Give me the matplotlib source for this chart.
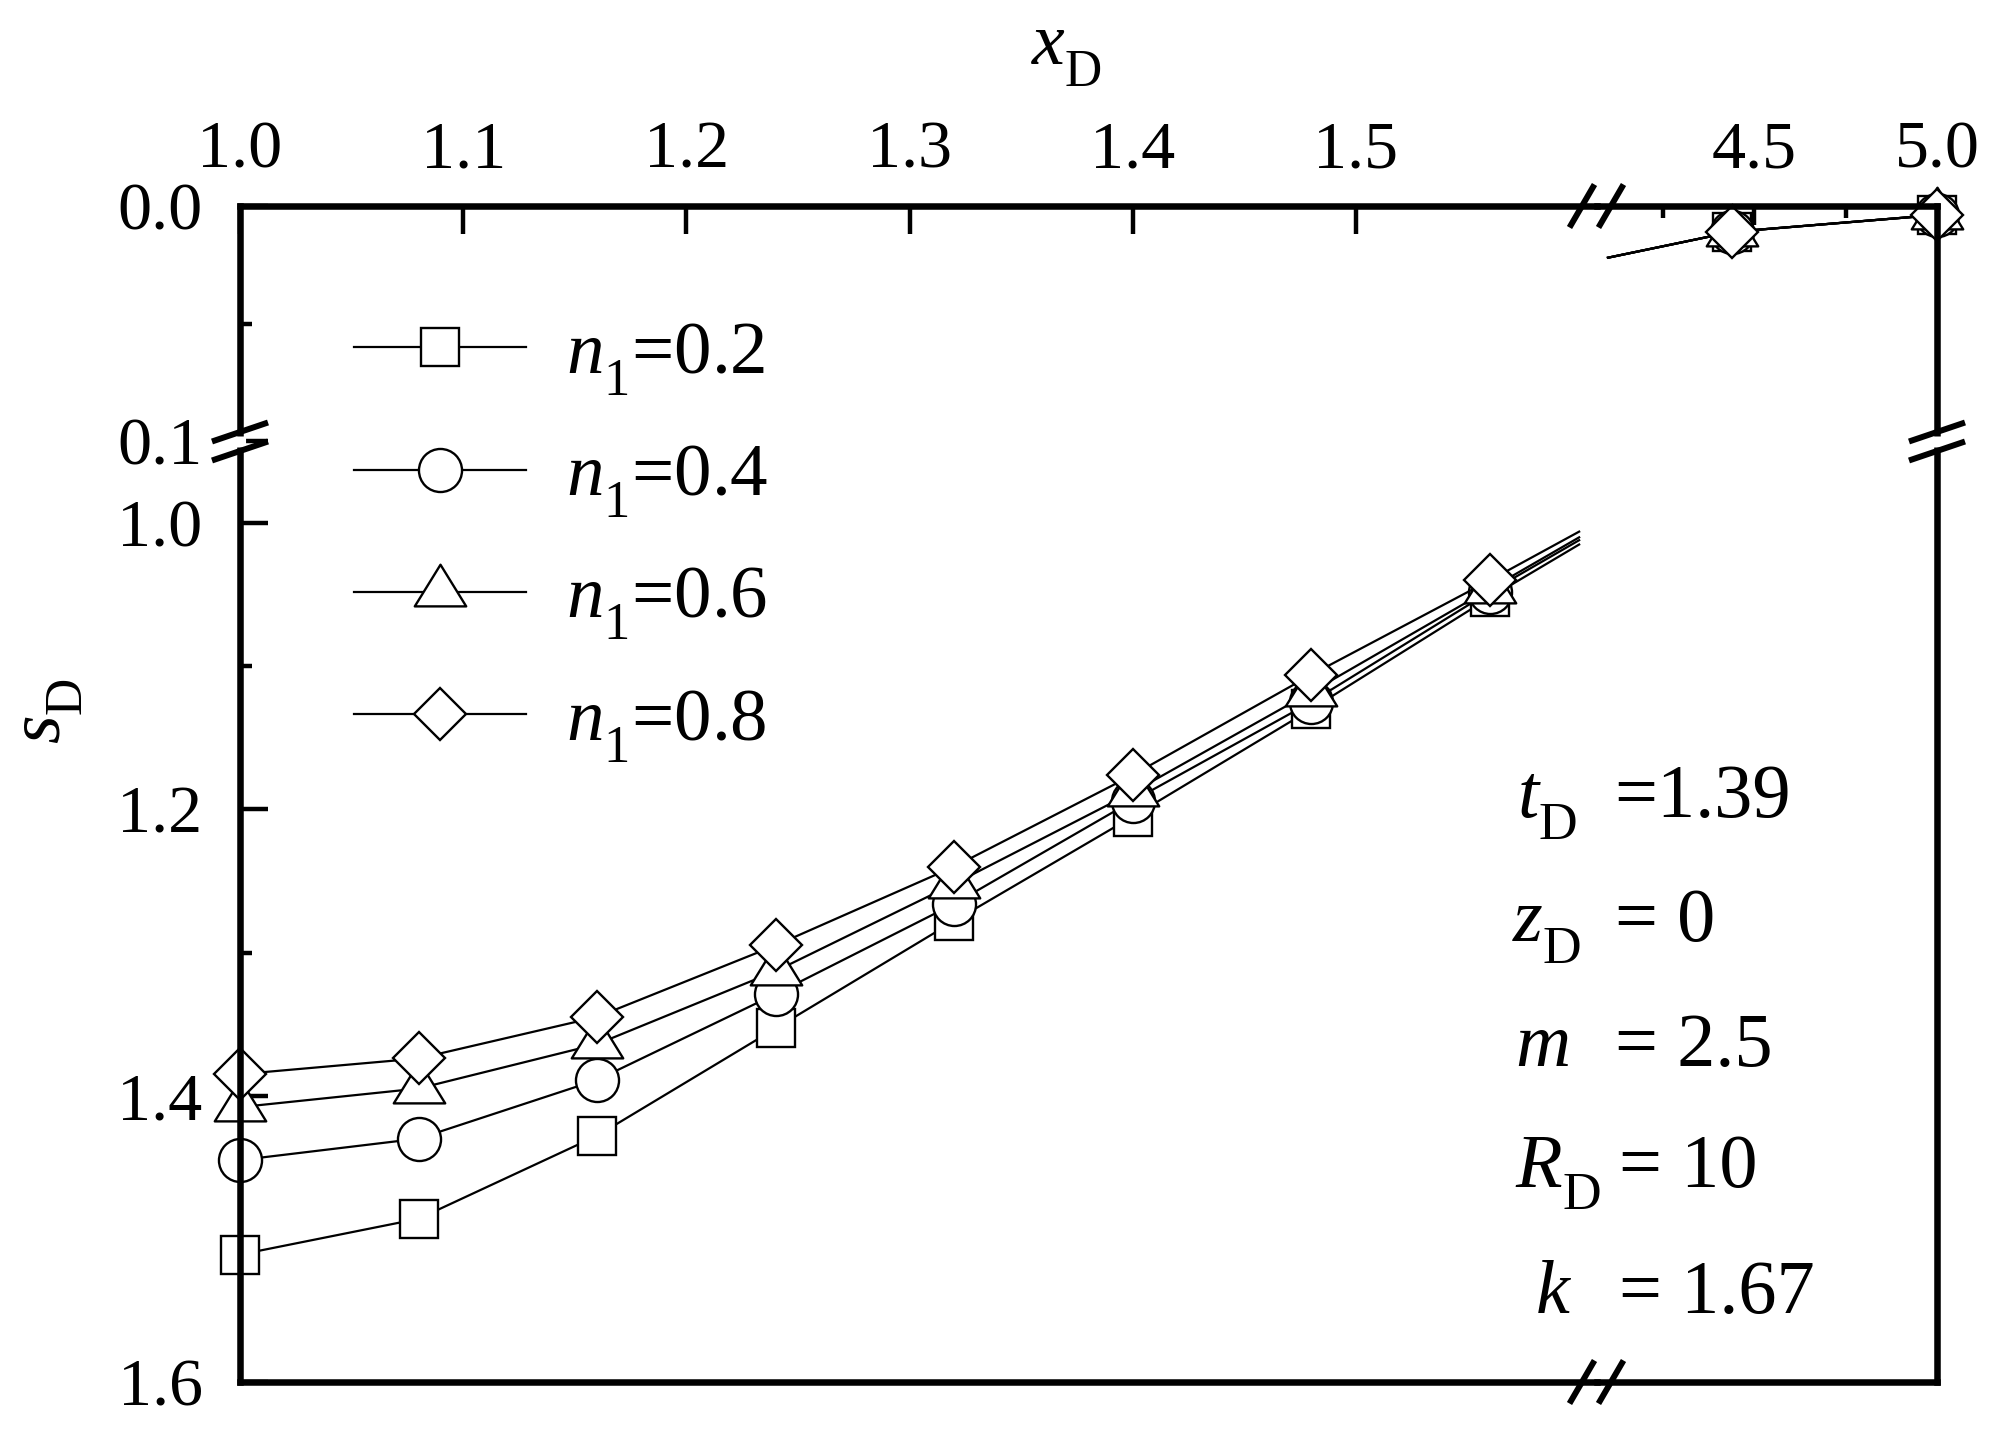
import matplotlib
matplotlib.use("Agg")
import matplotlib.pyplot as plt
from matplotlib.lines import Line2D
from matplotlib.path import Path

try:
    import matplotlib._mathtext as _mt
    _mt.FontConstantsBase.sub1 = 0.65
    _mt.FontConstantsBase.subdrop = 0.65
except Exception:
    pass

plt.rcParams['font.family'] = ['Liberation Serif', 'DejaVu Serif']
plt.rcParams['mathtext.fontset'] = 'custom'
plt.rcParams['mathtext.rm'] = 'Liberation Serif'
plt.rcParams['mathtext.it'] = 'Liberation Serif:italic'
plt.rcParams['mathtext.bf'] = 'Liberation Serif:bold'

# ---------------- data ----------------
x_marked_near = [1.00, 1.08, 1.16, 1.24, 1.32, 1.40, 1.48, 1.56]
x_edge_near = 1.60          # last (unmarked) curve point before the x break
x_edge_far = 4.10           # first (unmarked) curve point after the x break
x_marked_far = [4.44, 5.00]

sD_n02_near = [1.511, 1.486, 1.428, 1.353, 1.278, 1.205, 1.130, 1.052]
sD_n04_near = [1.445, 1.430, 1.389, 1.329, 1.266, 1.194, 1.125, 1.048]
sD_n06_near = [1.408, 1.395, 1.364, 1.313, 1.252, 1.188, 1.118, 1.046]
sD_n08_near = [1.385, 1.374, 1.345, 1.295, 1.240, 1.176, 1.106, 1.040]
sD_edge_near = [1.015, 1.012, 1.010, 1.006]
sD_edge_far = [0.022, 0.022, 0.022, 0.022]
sD_n02_far = [0.011, 0.0038]
sD_n04_far = [0.011, 0.0038]
sD_n06_far = [0.011, 0.0038]
sD_n08_far = [0.011, 0.0038]

n1_values = ['0.2', '0.4', '0.6', '0.8']

xticks_near = [1.0, 1.1, 1.2, 1.3, 1.4, 1.5]
xticklabels_near = ['1.0', '1.1', '1.2', '1.3', '1.4', '1.5']
xticks_far = [4.5, 5.0]
xticklabels_far = ['4.5', '5.0']
xminor_far = [4.25, 4.75]
yticks_top = [0.0, 0.1]
yticklabels_top = ['0.0', '0.1']
yminor_top = [0.05]
yticks_bot = [1.0, 1.2, 1.4, 1.6]
yticklabels_bot = ['1.0', '1.2', '1.4', '1.6']
yminor_bot = [1.1, 1.3, 1.5]

param_names = [r'$t_{\rm D}$', r'$z_{\rm D}$', r'$m$', r'$R_{\rm D}$', r'$k$']
param_values = ['=1.39', '= 0', '= 2.5', '= 10', '= 1.67']

# ---------------- layout ----------------
W, H = 2002, 1430
fig = plt.figure(figsize=(W / 100, H / 100), dpi=100)


def fx(px):
    return px / W


def fy(py):
    return 1 - py / H


L, R, T, B = 240, 1937, 206, 1382
XB, YB = 1597, 441

ax_ul = fig.add_axes([fx(L), fy(YB), fx(XB) - fx(L), fy(T) - fy(YB)])
ax_ur = fig.add_axes([fx(XB), fy(YB), fx(R) - fx(XB), fy(T) - fy(YB)])
ax_ll = fig.add_axes([fx(L), fy(B), fx(XB) - fx(L), fy(YB) - fy(B)])
ax_lr = fig.add_axes([fx(XB), fy(B), fx(R) - fx(XB), fy(YB) - fy(B)])
axes = [ax_ul, ax_ur, ax_ll, ax_lr]

for ax in axes:
    ax.patch.set_visible(False)
    for s in ax.spines.values():
        s.set_linewidth(4.7)
        s.set_visible(False)
    ax.tick_params(which='both', direction='in', top=False, bottom=False,
                   left=False, right=False, labeltop=False, labelbottom=False,
                   labelleft=False, labelright=False, width=3.2,
                   labelsize=49)
    ax.tick_params(which='major', length=20)
    ax.tick_params(which='minor', length=8.6)

ax_ul.spines['top'].set_visible(True)
ax_ul.spines['left'].set_visible(True)
ax_ur.spines['top'].set_visible(True)
ax_ur.spines['right'].set_visible(True)
ax_ll.spines['bottom'].set_visible(True)
ax_ll.spines['left'].set_visible(True)
ax_lr.spines['bottom'].set_visible(True)
ax_lr.spines['right'].set_visible(True)

x_near_lim = (1.0, 1.608)
x_far_lim = (4.07, 5.0)
y_top_lim = (0.1, 0.0)
y_bot_lim = (1.6, 0.9427)
ax_ul.set_xlim(*x_near_lim); ax_ul.set_ylim(*y_top_lim)
ax_ll.set_xlim(*x_near_lim); ax_ll.set_ylim(*y_bot_lim)
ax_ur.set_xlim(*x_far_lim); ax_ur.set_ylim(*y_top_lim)
ax_lr.set_xlim(*x_far_lim); ax_lr.set_ylim(*y_bot_lim)

# ticks
ax_ul.set_xticks(xticks_near)
ax_ul.set_xticklabels(xticklabels_near)
ax_ul.set_yticks(yticks_top)
ax_ul.set_yticklabels(yticklabels_top)
ax_ul.set_yticks(yminor_top, minor=True)
ax_ul.tick_params(axis='x', which='both', top=True, labeltop=True, pad=18)
ax_ul.tick_params(axis='y', which='both', left=True, labelleft=True, pad=27)

ax_ur.set_xticks(xticks_far)
ax_ur.set_xticklabels(xticklabels_far)
ax_ur.set_xticks(xminor_far, minor=True)
ax_ur.set_yticks([])
ax_ur.tick_params(axis='x', which='both', top=True, labeltop=True, pad=18)
ax_ur.tick_params(axis='x', which='major', length=14)

ax_ll.set_xticks([])
ax_ll.set_yticks(yticks_bot)
ax_ll.set_yticklabels(yticklabels_bot)
ax_ll.set_yticks(yminor_bot, minor=True)
ax_ll.tick_params(axis='y', which='both', left=True, labelleft=True, pad=27)

ax_lr.set_xticks([])
ax_lr.set_yticks([])

# markers
tri = Path([(0, 1.08), (-1, -0.54), (1, -0.54), (0, 1.08)], closed=True)
markers = ['s', 'o', tri, 'D']
msizes = [28, 31, 40, 26.5]

near_series = [sD_n02_near, sD_n04_near, sD_n06_near, sD_n08_near]
far_series = [sD_n02_far, sD_n04_far, sD_n06_far, sD_n08_far]

handles = []
for i in range(4):
    xs = x_marked_near + [x_edge_near]
    ys = near_series[i] + [sD_edge_near[i]]
    ln, = ax_ll.plot(xs, ys, color='black', lw=1.6, marker=markers[i],
                     ms=msizes[i], mfc='white', mec='black', mew=1.7,
                     markevery=list(range(len(x_marked_near))), clip_on=False,
                     label=r'$n_1$=' + n1_values[i])
    handles.append(ln)
    xs2 = [x_edge_far] + x_marked_far
    ys2 = [sD_edge_far[i]] + far_series[i]
    ax_ur.plot(xs2, ys2, color='black', lw=1.6, marker=markers[i],
               ms=msizes[i], mfc='white', mec='black', mew=1.7,
               markevery=[1, 2], clip_on=False)

fig.legend(handles=handles, labels=[h.get_label() for h in handles],
           loc='upper left', bbox_to_anchor=(fx(354), fy(321)),
           frameon=False, fontsize=54, borderpad=0, borderaxespad=0,
           handlelength=2.29, handletextpad=0.53, labelspacing=0.61)

# axis labels
fig.text(fx(1066), fy(55), r'$x_{\rm D}$', fontsize=53, ha='center', va='center')
fig.text(fx(51), fy(711), r'$s_{\rm D}$', fontsize=53, ha='center',
         va='center', rotation=90)

# parameter annotations
name_x = [1517, 1512, 1515, 1515, 1535]
eq_x = [1614, 1615, 1615, 1619, 1619]
base_y = [817, 941, 1066, 1187, 1313]
for nm, val, nx, ex, by in zip(param_names, param_values, name_x, eq_x, base_y):
    fig.text(fx(nx), fy(by), nm, fontsize=55, ha='left', va='baseline')
    fig.text(fx(ex), fy(by), val, fontsize=55, ha='left', va='baseline')


# break marks
def seg(x0, y0, x1, y1, color='black', lw=4.3, z=10):
    fig.add_artist(Line2D([fx(x0), fx(x1)], [fy(y0), fy(y1)],
                          transform=fig.transFigure, color=color, lw=lw,
                          zorder=z, solid_capstyle='butt'))


for yy in (T, B):
    for cx in (1582, 1611):
        seg(cx - 12.5, yy + 21.5, cx + 12.5, yy - 21.5)
for xx in (L, R):
    seg(xx, 436, xx, 447, color='white', lw=8, z=9)
    for cy in (432, 451):
        seg(xx - 28, cy + 9.5, xx + 28, cy - 9.5)

fig.savefig('out.png', dpi=100, facecolor='white')
